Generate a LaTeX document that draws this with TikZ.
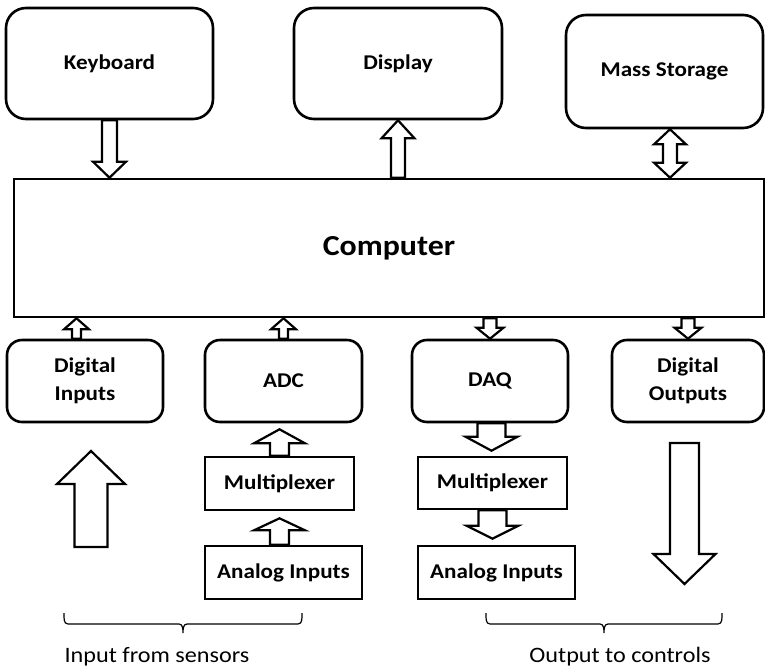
\documentclass[tikz,border=0pt]{standalone}
\usepackage{fontspec}
\setmainfont{Carlito}[FakeStretch=1.1]
\usetikzlibrary{calc}

% Hollow block arrow from #1 to #2: shaft half-width #3, head half-width #4, head length #5
\newcommand\fatarrow[5]{%
  \path[blockarrow] let \p1=(#1), \p2=(#2), \p3=($(\p2)!#5!(\p1)$) in
    ($(\p1)!#3!90:(\p2)$) -- ($(\p3)!#3!-90:(\p1)$) -- ($(\p3)!#4!-90:(\p1)$) --
    (\p2) -- ($(\p3)!#4!90:(\p1)$) -- ($(\p3)!#3!90:(\p1)$) --
    ($(\p1)!#3!-90:(\p2)$) -- cycle;}

% Hollow block arrow with heads at both ends
\newcommand\fatdoublearrow[5]{%
  \path[blockarrow] let \p1=(#1), \p2=(#2), \p3=($(\p1)!#5!(\p2)$), \p4=($(\p2)!#5!(\p1)$) in
    (\p1) -- ($(\p3)!#4!90:(\p2)$) -- ($(\p3)!#3!90:(\p2)$) --
    ($(\p4)!#3!-90:(\p1)$) -- ($(\p4)!#4!-90:(\p1)$) -- (\p2) --
    ($(\p4)!#4!90:(\p1)$) -- ($(\p4)!#3!90:(\p1)$) --
    ($(\p3)!#3!-90:(\p2)$) -- ($(\p3)!#4!-90:(\p2)$) -- cycle;}

% Flat curly bracket opening upwards between #1 and #2 (same height)
\newcommand\lowbrace[2]{%
  \path[bracket] let \p1=(#1), \p2=(#2), \n1={(\x1+\x2)/2} in
    (\p1) to[out=-90,in=180] (\x1+4pt,\y1-11pt) -- (\n1-4pt,\y1-11pt)
    to[out=0,in=90] (\n1,\y1-20pt) to[out=90,in=180] (\n1+4pt,\y1-11pt)
    -- (\x2-4pt,\y1-11pt) to[out=0,in=-90] (\p2);}

\tikzset{
  x=1pt, y=-1pt,
  label font/.style={font=\bfseries\fontsize{21}{28}\selectfont},
  topbox/.style={draw, line width=2.6pt, rounded corners=20pt, align=center,
    inner sep=0pt, label font},
  iobox/.style={draw, line width=2.6pt, rounded corners=15pt, align=center,
    inner sep=0pt, label font},
  plainbox/.style={draw, line width=2.6pt, align=center, inner sep=0pt, label font},
  blockarrow/.style={draw, fill=white, line width=2.2pt, line join=miter},
  bracket/.style={draw, line width=1.2pt},
  note/.style={anchor=base, font=\fontsize{22}{26}\selectfont},
}

\begin{document}
\begin{tikzpicture}
\fill[white] (0,0) rectangle (765,667);
\useasboundingbox (0,0) rectangle (765,667);

% peripherals
\node[topbox, minimum width=207, minimum height=111] (kbd)  at (109.5,63.5) {Keyboard};
\node[topbox, minimum width=208, minimum height=111] (disp) at (398,63.5)   {Display};
\node[topbox, minimum width=197, minimum height=113] (mass) at (664.5,71.5) {Mass Storage};

% central computer
\node[draw, line width=2.6pt, minimum width=750, minimum height=138, inner sep=0pt,
      font=\bfseries\fontsize{29}{34}\selectfont] (comp) at (389,248) {Computer};

% interface row
\node[iobox, minimum width=156, minimum height=82] (din)  at (85,381)    {Digital\\Inputs};
\node[iobox, minimum width=157, minimum height=82] (adc)  at (283.5,381) {ADC};
\node[iobox, minimum width=156, minimum height=82] (daq)  at (490,381)   {DAQ};
\node[iobox, minimum width=152, minimum height=82] (dout) at (688,381)   {Digital\\Outputs};

% analog chains
\node[plainbox, minimum width=149, minimum height=53] (muxl) at (279.5,483.5) {Multiplexer};
\node[plainbox, minimum width=157, minimum height=53] (anal) at (283.5,572.5) {Analog Inputs};
\node[plainbox, minimum width=149, minimum height=52] (muxr) at (492.5,483)   {Multiplexer};
\node[plainbox, minimum width=157, minimum height=53] (anar) at (496.5,572.5) {Analog Inputs};

% helper points for the connectors
\coordinate (kbdB)  at (kbd.south |- comp.north);
\coordinate (dispB) at (disp.south |- comp.north);
\coordinate (massA) at ($(mass.south)+(5.5,0)$);
\coordinate (massB) at (massA |- comp.north);
\coordinate (dinA)  at ($(din.north)+(-8.5,0)$);
\coordinate (dinB)  at (dinA |- comp.south);
\coordinate (adcB)  at (adc.north |- comp.south);
\coordinate (daqB)  at (daq.north |- comp.south);
\coordinate (doutB) at (dout.north |- comp.south);
\coordinate (mlTip) at ($(muxl.north |- adc.south)+(0,6)$);
\coordinate (alA)   at ($(anal.north)+(-4,0)$);
\coordinate (alTip) at ($(alA |- muxl.south)+(0,7)$);
\coordinate (daqA)  at ($(daq.south)+(1.5,0)$);
\coordinate (mrTip) at ($(daqA |- muxr.north)+(0,-5)$);
\coordinate (arTip) at ($(muxr.south |- anar.north)+(0,-6)$);

% connectors
\fatarrow{kbd.south}{kbdB}{7.5pt}{16.5pt}{16pt}
\fatarrow{dispB}{disp.south}{7pt}{16.5pt}{18pt}
\fatdoublearrow{massA}{massB}{7pt}{16pt}{15pt}
\fatarrow{dinA}{dinB}{4.5pt}{12.5pt}{11pt}
\fatarrow{adc.north}{adcB}{4.5pt}{12.5pt}{11pt}
\fatarrow{daqB}{daq.north}{6.5pt}{13.5pt}{11pt}
\fatarrow{doutB}{dout.north}{6.5pt}{13.5pt}{11pt}
\fatarrow{muxl.north}{mlTip}{9.5pt}{25.5pt}{14pt}
\fatarrow{alA}{alTip}{9.5pt}{25.5pt}{12pt}
\fatarrow{daqA}{mrTip}{14pt}{26pt}{14pt}
\fatarrow{muxr.south}{arTip}{14pt}{26pt}{13pt}

% sensor input and control output arrows
\coordinate (inBase)  at (91,547);
\coordinate (inTip)   at (91,451);
\coordinate (outBase) at (684.5,443);
\coordinate (outTip)  at (684.5,584);
\fatarrow{inBase}{inTip}{16.5pt}{34pt}{33pt}
\fatarrow{outBase}{outTip}{14.5pt}{31pt}{30pt}

% groupings
\coordinate (inL)  at (64,613);
\coordinate (inR)  at (302,613);
\coordinate (outL) at (486,613);
\coordinate (outR) at (722,613);
\lowbrace{inL}{inR}
\lowbrace{outL}{outR}
\node[note] (inlbl)  at (157,662) {Input from sensors};
\node[note] (outlbl) at (620,662) {Output to controls};
\end{tikzpicture}
\end{document}
